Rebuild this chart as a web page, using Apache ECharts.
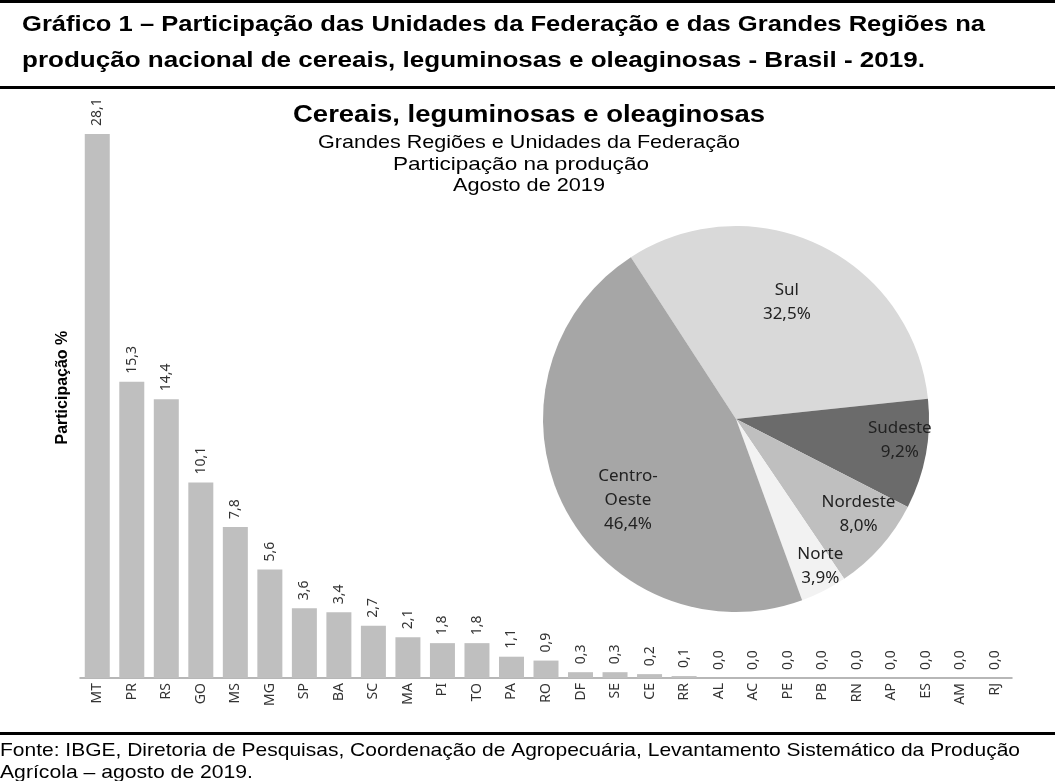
<!DOCTYPE html>
<html>
<head>
<meta charset="utf-8">
<script src="https://cdn.jsdelivr.net/npm/echarts@6/dist/echarts.min.js"></script>
<style>
  html, body { margin: 0; padding: 0; background: #fff; }
  #chart { width: 1055px; height: 781px; }
</style>
</head>
<body>
<div id="chart"></div>
<script>
// participação por UF (%)
const states = ['MT', 'PR', 'RS', 'GO', 'MS', 'MG', 'SP', 'BA', 'SC', 'MA', 'PI', 'TO', 'PA', 'RO',
  'DF', 'SE', 'CE', 'RR', 'AL', 'AC', 'PE', 'PB', 'RN', 'AP', 'ES', 'AM', 'RJ'];
const stateShare = [28.1, 15.3, 14.4, 10.1, 7.8, 5.6, 3.6, 3.4, 2.7, 2.1, 1.8, 1.8, 1.1, 0.9,
  0.3, 0.3, 0.2, 0.1, 0.0, 0.0, 0.0, 0.0, 0.0, 0.0, 0.0, 0.0, 0.0];

// participação por Grande Região (%)
const regions = ['Sul', 'Sudeste', 'Nordeste', 'Norte', 'Centro-Oeste'];
const regionShare = [32.5, 9.2, 8.0, 3.9, 46.4];

const headerLines = [
  'Gráfico 1 – Participação das Unidades da Federação e das Grandes Regiões na',
  'produção nacional de cereais, leguminosas e oleaginosas - Brasil - 2019.'
];
const titleLines = [
  'Cereais, leguminosas e oleaginosas',
  'Grandes Regiões e Unidades da Federação',
  'Participação na produção',
  'Agosto de 2019'
];
const footerLines = [
  'Fonte: IBGE, Diretoria de Pesquisas, Coordenação de Agropecuária, Levantamento Sistemático da Produção',
  'Agrícola – agosto de 2019.'
];

const regionColors = ['#d9d9d9', '#6b6b6b', '#bfbfbf', '#f2f2f2', '#a6a6a6'];
const regionLabelOffsets = [[8, -27], [66, 3], [48, 29], [39, 59], [-19, 37]];

const fmt = v => v.toFixed(1).replace('.', ',');

// o texto original é mais largo que a fonte disponível, então estica no eixo x
const measureCtx = document.createElement('canvas').getContext('2d');
function textEl(text, font, x, y, width, align) {
  measureCtx.font = font;
  const scale = width / measureCtx.measureText(text).width;
  return {
    type: 'text', x: x, y: y, scaleX: scale, silent: true,
    style: {
      text: text, font: font, fill: '#000',
      align: align, textAlign: align,
      verticalAlign: 'middle', textVerticalAlign: 'middle'
    }
  };
}
function bar(y, h) {
  return { type: 'rect', silent: true, shape: { x: 0, y: y, width: 1055, height: h }, style: { fill: '#000' } };
}

const headFont = 'bold 22px "Liberation Sans", Arial, sans-serif';
const footFont = '19px "Liberation Sans", Arial, sans-serif';

const chart = echarts.init(document.getElementById('chart'));
chart.setOption({
  animation: false,
  backgroundColor: '#fff',
  graphic: [
    bar(0, 3),
    bar(86, 3),
    bar(732, 3),
    textEl(headerLines[0], headFont, 22, 25, 963, 'left'),
    textEl(headerLines[1], headFont, 22, 61, 903, 'left'),
    textEl(titleLines[0], 'bold 24px "Liberation Sans", Arial, sans-serif', 529, 115, 472, 'center'),
    textEl(titleLines[1], '19px "Liberation Sans", Arial, sans-serif', 529, 143, 422, 'center'),
    textEl(titleLines[2], '19px "Liberation Sans", Arial, sans-serif', 521, 165, 256, 'center'),
    textEl(titleLines[3], '19px "Liberation Sans", Arial, sans-serif', 529, 186, 152, 'center'),
    textEl(footerLines[0], footFont, 0, 751, 1020, 'left'),
    textEl(footerLines[1], footFont, 0, 773, 253, 'left')
  ],
  grid: { left: 80, right: 43, top: 97.2, bottom: 103 },
  xAxis: {
    type: 'category',
    data: states,
    axisLine: { lineStyle: { color: '#a0a0a0', width: 1.5 } },
    axisTick: { show: false },
    axisLabel: {
      interval: 0, rotate: 90, margin: 5,
      fontFamily: 'Noto Sans', fontSize: 14, color: '#333'
    }
  },
  yAxis: {
    type: 'value', min: 0, max: 30,
    axisLine: { show: false },
    axisTick: { show: false },
    axisLabel: { show: false },
    splitLine: { show: false },
    name: 'Participação %',
    nameLocation: 'middle',
    nameGap: 9,
    nameRotate: 90,
    nameTextStyle: { fontFamily: 'Liberation Sans', fontWeight: 'bold', fontSize: 16, color: '#000' }
  },
  series: [
    {
      type: 'bar',
      data: stateShare,
      barWidth: 25,
      silent: true,
      itemStyle: { color: '#bfbfbf' },
      label: {
        show: true, position: 'top', rotate: 90, distance: 8,
        align: 'left', verticalAlign: 'middle',
        fontFamily: 'Noto Sans', fontSize: 14, color: '#333',
        formatter: p => fmt(p.value)
      }
    },
    {
      type: 'pie',
      center: [736, 419],
      radius: 193,
      startAngle: 123,
      clockwise: true,
      silent: true,
      itemStyle: { borderWidth: 0 },
      labelLine: { show: false },
      label: {
        show: true, position: 'inside',
        fontFamily: 'Noto Sans', fontSize: 17, lineHeight: 24, color: '#222',
        formatter: p => p.name.replace('-', '-\n') + '\n' + fmt(p.value) + '%'
      },
      data: regions.map((name, i) => ({
        name: name,
        value: regionShare[i],
        itemStyle: { color: regionColors[i] },
        label: { offset: regionLabelOffsets[i] }
      }))
    }
  ]
});
window.addEventListener('resize', () => chart.resize());
</script>
</body>
</html>
